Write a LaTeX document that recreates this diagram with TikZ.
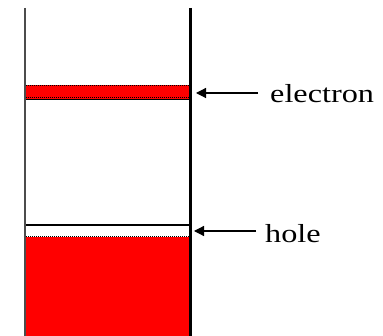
\documentclass[tikz,border=0pt]{standalone}
\usepackage{fontspec}
\setmainfont{Liberation Serif}
\usetikzlibrary{arrows.meta}
\tikzset{
  lbl/.style={anchor=base west, inner sep=0pt, font=\fontsize{26}{30}\selectfont},
  arr/.style={line width=1.2pt, -{Triangle[length=10pt,width=10pt]}},
  dotline/.style={black, line width=1pt, densely dotted},
}
\begin{document}
\begin{tikzpicture}[x=1pt,y=-1pt]
\useasboundingbox (0,0) rectangle (383,336);
% filled regions
\fill[red] (26,85) rectangle (189,99);
\fill[red] (26,237) rectangle (189,336);
\draw[dotline] (26,85.5) -- (189,85.5);
\draw[dotline] (26,97.5) -- (189,97.5);
\draw[dotline] (26,237) -- (189,237);
\draw[line width=1.3pt] (26,99.3) -- (189,99.3);
\draw[line width=1.2pt] (26,225) -- (189,225);
% walls
\draw[black!70, line width=2pt] (25,8) -- (25,336);
\draw[line width=3pt] (190,8) -- (190,336);
% labels
\node[lbl] (el) at (270,103) {\scalebox{1.24}[1]{electron}};
\node[lbl] (ho) at (265,243) {\scalebox{1.24}[1]{hole}};
\coordinate (etail) at (258,93);
\coordinate (etip) at (196,93);
\coordinate (htail) at (256,231);
\coordinate (htip) at (194,231);
\draw[arr] (etail) -- (etip);
\draw[arr] (htail) -- (htip);
\end{tikzpicture}
\end{document}
